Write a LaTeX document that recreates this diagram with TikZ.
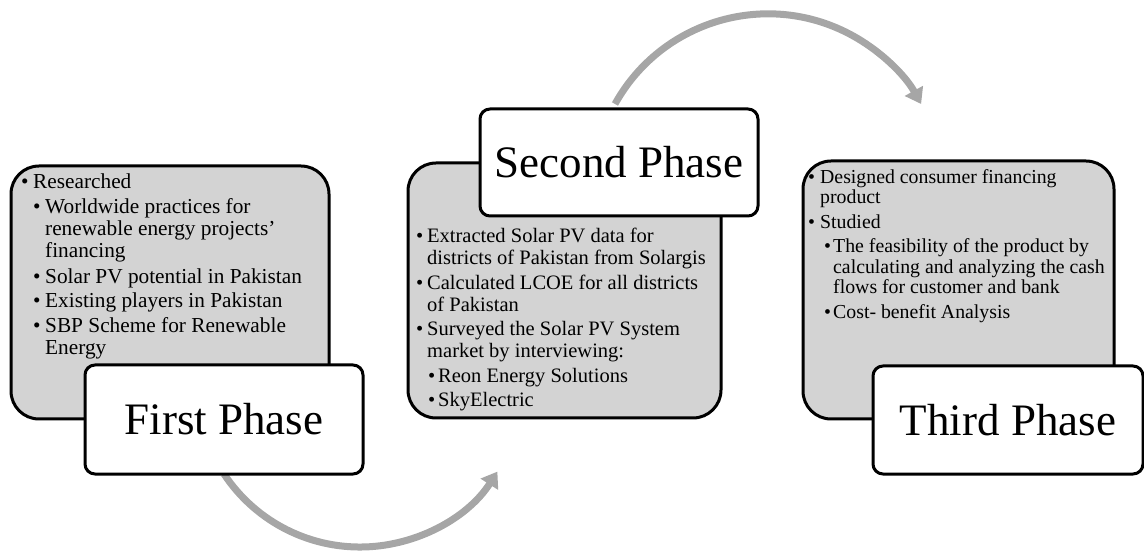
\documentclass[tikz,border=0pt]{standalone}
\usepackage{fontspec}
\setmainfont{Liberation Serif}
\usetikzlibrary{arrows.meta}
\definecolor{boxgray}{HTML}{D3D3D3}
\definecolor{arrowgray}{HTML}{A6A6A6}
\newcommand\bl[1]{\makebox[#1][l]{\hspace*{-1pt}\textbullet}}
\begin{document}
\begin{tikzpicture}[x=1pt,y=-1pt,
  graybox/.style={draw=black, line width=3pt, fill=boxgray, rounded corners=28pt, anchor=north west, inner sep=0pt},
  phasebox/.style={draw=black, line width=3pt, fill=white, rounded corners=10pt, anchor=north west, inner sep=0pt, font=\fontsize{45}{50}\selectfont},
  bodytext/.style={anchor=north west, inner sep=0pt, align=left},
  cyc/.style={draw=arrowgray, line width=7pt, -{Triangle[length=15pt,width=20pt]}}]
\useasboundingbox (0,0) rectangle (1144,553);
% cycle arrows
\coordinate (a1s) at (224,474);
\coordinate (a2s) at (615,104);
\draw[cyc] (a1s) arc[start angle=146.5, end angle=32.5, radius=163];
\draw[cyc] (a2s) arc[start angle=209, end angle=331, radius=175];
% gray boxes
\node[graybox, minimum width=318pt, minimum height=253pt] (g1) at (9.5,164.5) {};
\node[graybox, minimum width=313pt, minimum height=255pt] (g2) at (406.5,161.5) {};
\node[graybox, minimum width=311pt, minimum height=258pt] (g3) at (801.5,159.5) {};
% texts
\node[bodytext, font=\fontsize{21.3}{22}\selectfont] (t1) at (22,174) {%
\bl{11pt}Researched\\[3pt]
\hspace*{12pt}\bl{11pt}Worldwide practices for\\
\hspace*{23pt}renewable energy projects’\\
\hspace*{23pt}financing\\[3.5pt]
\hspace*{12pt}\bl{11pt}Solar PV potential in Pakistan\\[2.5pt]
\hspace*{12pt}\bl{11pt}Existing players in Pakistan\\[2.5pt]
\hspace*{12pt}\bl{11pt}SBP Scheme for Renewable\\
\hspace*{23pt}Energy};
\node[bodytext, font=\fontsize{20.5}{22}\selectfont] (t2) at (417,228) {%
\bl{10pt}Extracted Solar PV data for\\
\hspace*{10pt}districts of Pakistan from Solargis\\[3pt]
\bl{10pt}Calculated LCOE for all districts\\
\hspace*{10pt}of Pakistan\\[2pt]
\bl{10pt}Surveyed the Solar PV System\\
\hspace*{10pt}market by interviewing:\\[3pt]
\hspace*{12pt}\bl{9pt}Reon Energy Solutions\\[2pt]
\hspace*{12pt}\bl{9pt}SkyElectric};
\node[bodytext, font=\fontsize{19.8}{20.5}\selectfont] (t3) at (809,169) {%
\bl{11pt}Designed consumer financing\\
\hspace*{11pt}product\\[4pt]
\bl{11pt}Studied\\[4pt]
\hspace*{16pt}\bl{8pt}The feasibility of the product by\\
\hspace*{24pt}calculating and analyzing the cash\\
\hspace*{24pt}flows for customer and bank\\[4pt]
\hspace*{16pt}\bl{8pt}Cost- benefit Analysis};
% phase boxes
\node[phasebox, minimum width=278pt, minimum height=109pt] (p1) at (83.5,363.5) {First Phase};
\node[phasebox, minimum width=278pt, minimum height=107pt] (p2) at (478.5,107.5) {Second Phase};
\node[phasebox, minimum width=270pt, minimum height=108pt] (p3) at (871.5,364.5) {Third Phase};
\end{tikzpicture}
\end{document}
